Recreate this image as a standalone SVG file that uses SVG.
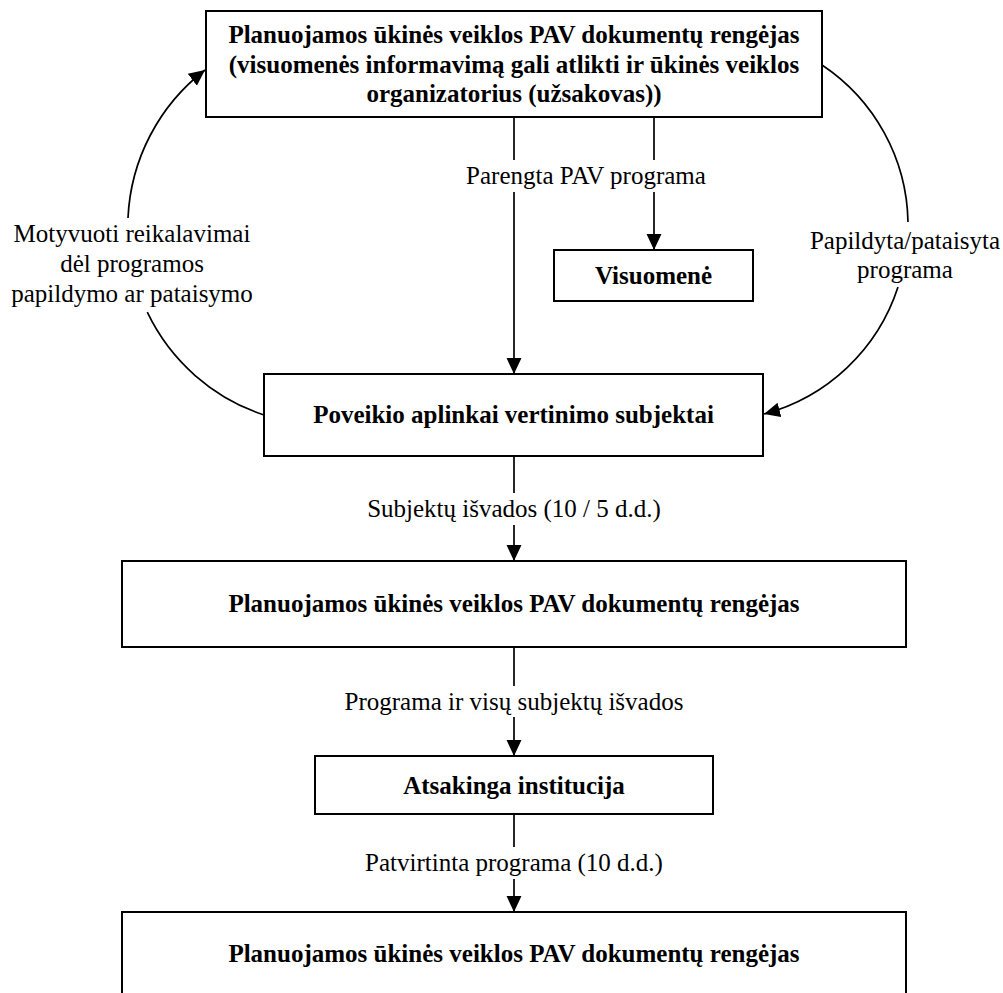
<svg xmlns="http://www.w3.org/2000/svg" width="1003" height="993" viewBox="0 0 1003 993">
<style>
.box{fill:#fff;stroke:#000;stroke-width:2}
.ln{fill:none;stroke:#000;stroke-width:1.7}
.t{font-family:"Liberation Serif","Times New Roman",serif;font-size:25px;fill:#000;text-anchor:middle}
.b{font-weight:bold}
</style>
<defs>
<marker id="ah" markerUnits="userSpaceOnUse" markerWidth="16" markerHeight="16" viewBox="0 0 15 14" refX="15" refY="7" orient="auto">
<path d="M0,0 L15,7 L0,14 Z" fill="#000"/>
</marker>
</defs>
<rect width="1003" height="993" fill="#fff"/>
<g id="connectors">
<path class="ln" d="M514,117 V160"/>
<path class="ln" d="M514,192 V374" marker-end="url(#ah)"/>
<path class="ln" d="M654,117 V160"/>
<path class="ln" d="M654,192 V250" marker-end="url(#ah)"/>
<path class="ln" d="M514,456 V493"/>
<path class="ln" d="M514,525 V561" marker-end="url(#ah)"/>
<path class="ln" d="M514,647 V686"/>
<path class="ln" d="M514,717 V756" marker-end="url(#ah)"/>
<path class="ln" d="M514,814 V847"/>
<path class="ln" d="M514,879 V912" marker-end="url(#ah)"/>
<path class="ln" d="M264,415 A198,198 0 0 1 147.3,312.2"/>
<path class="ln" d="M128,218 A198,198 0 0 1 205,70" marker-end="url(#ah)"/>
<path class="ln" d="M822,65 A193,193 0 0 1 908,222"/>
<path class="ln" d="M898,287 A193,193 0 0 1 764,414" marker-end="url(#ah)"/>
<text class="t" x="586" y="184">Parengta PAV programa</text>
<text class="t" x="514" y="517">Subjektų išvados (10 / 5 d.d.)</text>
<text class="t" x="514" y="709.5">Programa ir visų subjektų išvados</text>
<text class="t" x="514" y="871">Patvirtinta programa (10 d.d.)</text>
<text class="t" x="132" y="242">Motyvuoti reikalavimai</text>
<text class="t" x="132" y="272">dėl programos</text>
<text class="t" x="132" y="301.5">papildymo ar pataisymo</text>
<text class="t" x="905" y="248.5">Papildyta/pataisyta</text>
<text class="t" x="905" y="277.5">programa</text>
</g>
<g id="node-top">
<rect class="box" x="206" y="11" width="616" height="106"/>
<text class="t b" x="514" y="43">Planuojamos ūkinės veiklos PAV dokumentų rengėjas</text>
<text class="t b" x="514" y="72.5">(visuomenės informavimą gali atlikti ir ūkinės veiklos</text>
<text class="t b" x="514" y="102">organizatorius (užsakovas))</text>
</g>
<g id="node-visuomene">
<rect class="box" x="554" y="250" width="199" height="51"/>
<text class="t b" x="653.5" y="284">Visuomenė</text>
</g>
<g id="node-subjektai">
<rect class="box" x="264" y="374" width="499" height="82"/>
<text class="t b" x="513.5" y="423">Poveikio aplinkai vertinimo subjektai</text>
</g>
<g id="node-rengejas2">
<rect class="box" x="122" y="561" width="784" height="86"/>
<text class="t b" x="514" y="612">Planuojamos ūkinės veiklos PAV dokumentų rengėjas</text>
</g>
<g id="node-institucija">
<rect class="box" x="315" y="756" width="398" height="58"/>
<text class="t b" x="514" y="793.5">Atsakinga institucija</text>
</g>
<g id="node-rengejas3">
<rect class="box" x="122" y="912" width="784" height="86"/>
<text class="t b" x="514" y="962">Planuojamos ūkinės veiklos PAV dokumentų rengėjas</text>
</g>
</svg>
